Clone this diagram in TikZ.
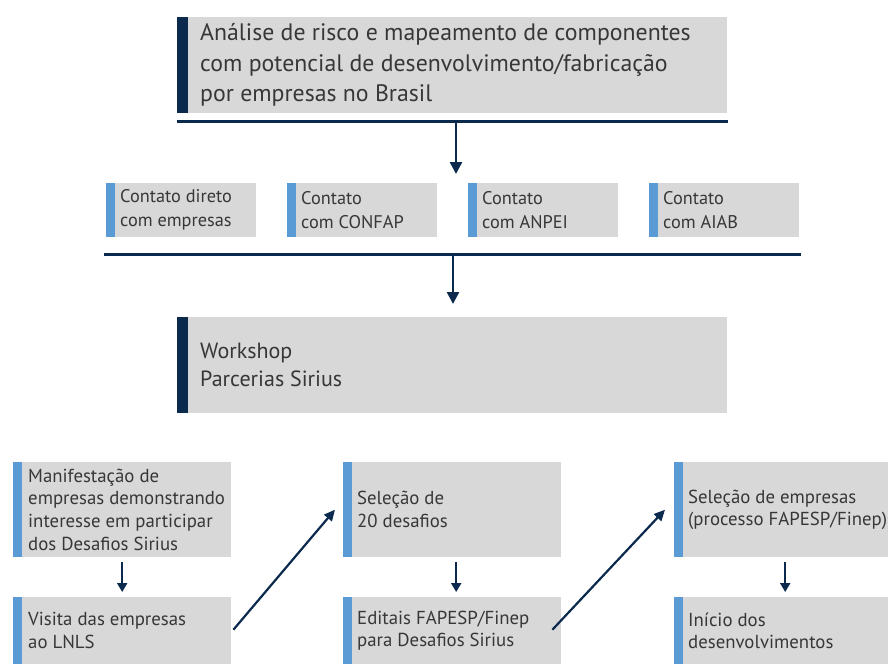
\documentclass[tikz,border=0pt]{standalone}
\usepackage{fontspec}
\setmainfont{PT Sans}
\usetikzlibrary{arrows.meta,positioning}
\definecolor{navy}{RGB}{11,42,78}
\definecolor{barblue}{RGB}{91,155,213}
\definecolor{boxgray}{RGB}{216,216,216}
\definecolor{txtgray}{RGB}{55,55,55}
\newcommand{\bigtxt}{\fontsize{23.8}{30.5}\selectfont}
\newcommand{\midtxt}{\fontsize{22}{28}\selectfont}
\newcommand{\smalltxt}{\fontsize{18.3}{24}\selectfont}
\newcommand{\narrowtxt}{\fontsize{18.8}{22.7}\selectfont}

\begin{document}
\begin{tikzpicture}[x=1pt, y=-1pt,
    box/.style={rectangle, fill=boxgray, anchor=north west, inner sep=0pt},
    darkbox/.style={box, minimum width=550pt, path picture={
        \fill[navy] (path picture bounding box.north west) rectangle ([xshift=11pt]path picture bounding box.south west);}},
    lightbox/.style={box, path picture={
        \fill[barblue] (path picture bounding box.north west) rectangle ([xshift=9pt]path picture bounding box.south west);}},
    contact/.style={lightbox, minimum width=150pt, minimum height=54pt},
    stepupper/.style={lightbox, minimum width=218pt, minimum height=95pt},
    steplower/.style={lightbox, minimum width=218pt, minimum height=67pt},
    label/.style={align=left, inner sep=0pt, text=txtgray},
    rule/.style={draw=navy, line width=3pt},
    bigarrow/.style={draw=navy, line width=2.5pt, -{Triangle[width=12pt,length=12pt]}},
    smallarrow/.style={draw=navy, line width=2pt, -{Triangle[width=10pt,length=9pt]}}
    ]
    \useasboundingbox (0,0) rectangle (888,664);

    % Nodes
    \node [darkbox, minimum height=96pt] (risk) at (177,17) {};
    \node [label, font=\bigtxt, right=23pt of risk.west] (risktxt) {Análise de risco e mapeamento de componentes\\com potencial de desenvolvimento/fabricação\\por empresas no Brasil};

    \node [contact] (direct) at (106,183) {};
    \node [contact] (confap) at (287,183) {};
    \node [contact] (anpei) at (468,183) {};
    \node [contact] (aiab) at (649,183) {};
    \node [label, font=\smalltxt, right=14pt of direct.west] (directtxt) {Contato direto\\com empresas};
    \node [label, font=\smalltxt, right=14pt of confap.west] (confaptxt) {Contato\\com CONFAP};
    \node [label, font=\smalltxt, right=14pt of anpei.west] (anpeitxt) {Contato\\com ANPEI};
    \node [label, font=\smalltxt, right=14pt of aiab.west] (aiabtxt) {Contato\\com AIAB};

    \node [darkbox, minimum height=96pt] (workshop) at (177,317) {};
    \node [label, font=\midtxt, right=23pt of workshop.west] (workshoptxt) {Workshop\\Parcerias Sirius};

    \node [stepupper] (interest) at (13,462) {};
    \node [steplower] (visit) at (13,597) {};
    \node [stepupper] (choice) at (343,462) {};
    \node [steplower] (calls) at (343,597) {};
    \node [stepupper, minimum width=214pt] (select) at (674,462) {};
    \node [steplower, minimum width=214pt] (start) at (674,597) {};
    \node [label, font=\narrowtxt, right=15pt of interest.west] (interesttxt) {Manifestação de\\empresas demonstrando\\interesse em participar\\dos Desafios Sirius};
    \node [label, font=\narrowtxt, right=15pt of visit.west] (visittxt) {Visita das empresas\\ao LNLS};
    \node [label, font=\narrowtxt, right=14pt of choice.west] (choicetxt) {Seleção de\\20 desafios};
    \node [label, font=\narrowtxt, right=14pt of calls.west] (callstxt) {Editais FAPESP/Finep\\para Desafios Sirius};
    \node [label, font=\narrowtxt, right=14pt of select.west] (selecttxt) {Seleção de empresas\\(processo FAPESP/Finep)};
    \node [label, font=\narrowtxt, right=14pt of start.west] (starttxt) {Início dos\\desenvolvimentos};

    % Rules
    \coordinate (topwest) at (177,121);
    \coordinate (topeast) at (728,121);
    \coordinate (topsplit) at (456,121);
    \coordinate (topin) at (456,174);
    \coordinate (lowwest) at (104,254);
    \coordinate (loweast) at (801,254);
    \coordinate (lowsplit) at (453,254);
    \coordinate (lowin) at (453,304);
    \draw[rule] (topwest) -- (topeast);
    \draw[rule] (lowwest) -- (loweast);

    % Paths
    \draw[bigarrow] (topsplit) -- (topin);
    \draw[bigarrow] (lowsplit) -- (lowin);
    \draw[smallarrow, shorten <=5pt, shorten >=5pt] (interest) -- (visit);
    \draw[smallarrow, shorten <=5pt, shorten >=5pt] ([xshift=4pt]choice.south) -- ([xshift=4pt]calls.north);
    \draw[smallarrow, shorten <=5pt, shorten >=5pt] ([xshift=4pt]select.south) -- ([xshift=4pt]start.north);
    \draw[bigarrow, line width=2.2pt, -{Triangle[width=10pt,length=11pt]}] ([xshift=2pt,yshift=1pt]visit.east) -- ([xshift=-8pt]choice.west);
    \draw[bigarrow, line width=2.2pt, -{Triangle[width=10pt,length=11pt]}] ([xshift=-9pt,yshift=1pt]calls.east) -- ([xshift=-9pt]select.west);
\end{tikzpicture}
\end{document}
